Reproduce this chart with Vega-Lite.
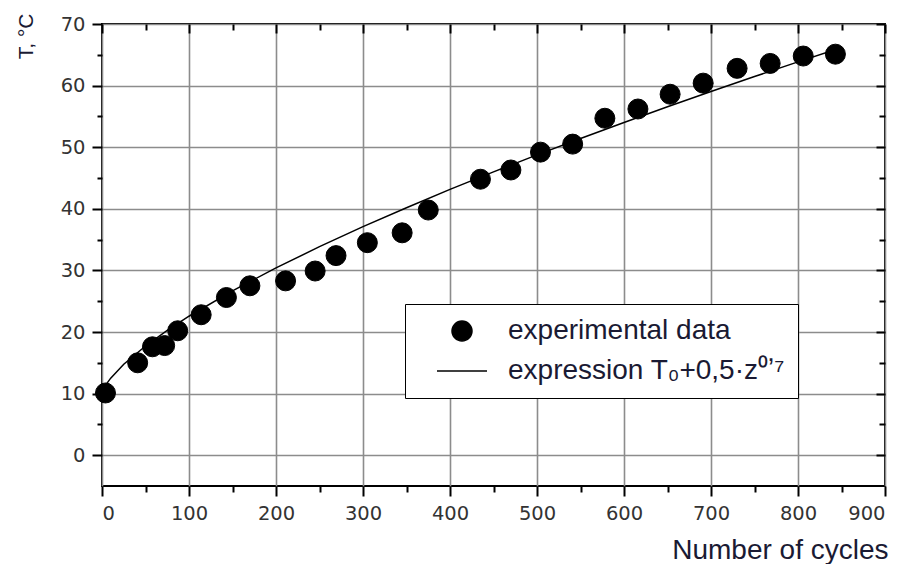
{
  "$schema": "https://vega.github.io/schema/vega-lite/v6.json",
  "width": 783,
  "height": 462,
  "autosize": {"type": "none"},
  "padding": {"left": 102, "top": 24, "right": 22, "bottom": 78},
  "background": "white",
  "config": {
    "view": {"stroke": "black", "strokeWidth": 2},
    "axis": {
      "domain": false,
      "tickColor": "black",
      "tickWidth": 2,
      "gridColor": "#8c8c8c",
      "gridWidth": 1.6,
      "gridOpacity": 1,
      "labelFont": "DejaVu Sans",
      "labelFontSize": 19.5,
      "labelColor": "#333333",
      "titleFont": "Liberation Sans",
      "titleFontWeight": "normal",
      "titleColor": "#1a1a33"
    },
    "legend": {
      "orient": "none", "legendX": 303, "legendY": 280,
      "strokeColor": "black", "fillColor": "white",
      "padding": 13,
      "symbolOffset": 18,
      "symbolStrokeWidth": 1.5,
      "labelFont": "Liberation Sans", "labelFontSize": 28, "labelColor": "#1a1a33",
      "labelOffset": 20, "rowPadding": -15, "labelLimit": 600
    }
  },
  "datasets": {
    "points": [
      {"cycles": 4, "T": 10.1, "series": "experimental data"},
      {"cycles": 41, "T": 15.0, "series": "experimental data"},
      {"cycles": 58, "T": 17.6, "series": "experimental data"},
      {"cycles": 72, "T": 17.8, "series": "experimental data"},
      {"cycles": 87, "T": 20.2, "series": "experimental data"},
      {"cycles": 114, "T": 22.8, "series": "experimental data"},
      {"cycles": 143, "T": 25.6, "series": "experimental data"},
      {"cycles": 170, "T": 27.5, "series": "experimental data"},
      {"cycles": 211, "T": 28.3, "series": "experimental data"},
      {"cycles": 245, "T": 29.9, "series": "experimental data"},
      {"cycles": 269, "T": 32.4, "series": "experimental data"},
      {"cycles": 305, "T": 34.5, "series": "experimental data"},
      {"cycles": 345, "T": 36.1, "series": "experimental data"},
      {"cycles": 375, "T": 39.8, "series": "experimental data"},
      {"cycles": 435, "T": 44.8, "series": "experimental data"},
      {"cycles": 470, "T": 46.3, "series": "experimental data"},
      {"cycles": 504, "T": 49.2, "series": "experimental data"},
      {"cycles": 541, "T": 50.5, "series": "experimental data"},
      {"cycles": 578, "T": 54.7, "series": "experimental data"},
      {"cycles": 616, "T": 56.2, "series": "experimental data"},
      {"cycles": 653, "T": 58.6, "series": "experimental data"},
      {"cycles": 691, "T": 60.4, "series": "experimental data"},
      {"cycles": 730, "T": 62.8, "series": "experimental data"},
      {"cycles": 768, "T": 63.6, "series": "experimental data"},
      {"cycles": 806, "T": 64.8, "series": "experimental data"},
      {"cycles": 843, "T": 65.1, "series": "experimental data"}
    ],
    "fit": [
      {"cycles": 0, "T": 10.0},
      {"cycles": 2, "T": 10.81},
      {"cycles": 5, "T": 11.54},
      {"cycles": 10, "T": 12.51},
      {"cycles": 25, "T": 14.76},
      {"cycles": 50, "T": 17.73},
      {"cycles": 75, "T": 20.27},
      {"cycles": 100, "T": 22.56},
      {"cycles": 150, "T": 26.68},
      {"cycles": 200, "T": 30.4},
      {"cycles": 250, "T": 33.85},
      {"cycles": 300, "T": 37.1},
      {"cycles": 350, "T": 40.17},
      {"cycles": 400, "T": 43.15},
      {"cycles": 450, "T": 46.0},
      {"cycles": 500, "T": 48.75},
      {"cycles": 550, "T": 51.42},
      {"cycles": 600, "T": 54.02},
      {"cycles": 650, "T": 56.56},
      {"cycles": 700, "T": 59.04},
      {"cycles": 750, "T": 61.47},
      {"cycles": 800, "T": 63.85},
      {"cycles": 845, "T": 65.95}
    ]
  },
  "layer": [
    {
      "data": {"name": "fit"},
      "mark": {"type": "line", "color": "black", "strokeWidth": 1.5},
      "encoding": {
        "x": {
          "field": "cycles", "type": "quantitative",
          "scale": {"domain": [0, 900], "nice": false, "zero": false},
          "axis": {
            "orient": "bottom",
            "values": [0, 100, 200, 300, 400, 500, 600, 700, 800, 900],
            "grid": true, "tickSize": 10, "labelPadding": 8,
            "title": "Number of cycles",
            "titleFontSize": 28,
            "titleAnchor": "end", "titleAlign": "right",
            "titleX": 786, "titleY": 72, "titleBaseline": "alphabetic"
          }
        },
        "y": {
          "field": "T", "type": "quantitative",
          "scale": {"domain": [-5, 70], "nice": false, "zero": false},
          "axis": {
            "orient": "left",
            "values": [0, 10, 20, 30, 40, 50, 60, 70],
            "grid": true, "tickSize": 10, "labelPadding": 7,
            "title": "T, °C",
            "titleFontSize": 21,
            "titleAngle": -90, "titleAlign": "right", "titleBaseline": "middle",
            "titleX": -76, "titleY": -11
          }
        }
      }
    },
    {
      "data": {"name": "points"},
      "mark": {"type": "point", "filled": false, "fill": "black", "color": "black", "strokeWidth": 1, "opacity": 1},
      "encoding": {
        "x": {
          "field": "cycles", "type": "quantitative",
          "axis": {"orient": "top", "values": [0, 100, 200, 300, 400, 500, 600, 700, 800, 900], "grid": false, "labels": false, "tickSize": -9, "title": null}
        },
        "y": {
          "field": "T", "type": "quantitative",
          "axis": {"orient": "right", "values": [0, 10, 20, 30, 40, 50, 60, 70], "grid": false, "labels": false, "tickSize": -9, "title": null}
        },
        "shape": {
          "field": "series", "type": "nominal",
          "scale": {"domain": ["experimental data", "expression T₀+0,5·z⁰ʼ⁷"], "range": ["circle", "stroke"]},
          "legend": {"title": null}
        },
        "size": {
          "field": "series", "type": "nominal",
          "scale": {"domain": ["experimental data", "expression T₀+0,5·z⁰ʼ⁷"], "range": [400, 2500]},
          "legend": {"title": null}
        }
      }
    },
    {
      "data": {"name": "points"},
      "mark": {"type": "point", "opacity": 0},
      "encoding": {
        "x": {
          "field": "cycles", "type": "quantitative",
          "axis": {"orient": "bottom", "values": [50, 150, 250, 350, 450, 550, 650, 750, 850], "grid": false, "labels": false, "tickSize": 6, "title": null}
        },
        "y": {
          "field": "T", "type": "quantitative",
          "axis": {"orient": "left", "values": [5, 15, 25, 35, 45, 55, 65], "grid": false, "labels": false, "tickSize": 5, "title": null}
        }
      }
    },
    {
      "data": {"name": "points"},
      "mark": {"type": "point", "opacity": 0},
      "encoding": {
        "x": {
          "field": "cycles", "type": "quantitative",
          "axis": {"orient": "top", "values": [50, 150, 250, 350, 450, 550, 650, 750, 850], "grid": false, "labels": false, "tickSize": -6, "title": null}
        },
        "y": {
          "field": "T", "type": "quantitative",
          "axis": {"orient": "right", "values": [5, 15, 25, 35, 45, 55, 65], "grid": false, "labels": false, "tickSize": -6, "title": null}
        }
      }
    }
  ],
  "resolve": {"axis": {"x": "independent", "y": "independent"}}
}
